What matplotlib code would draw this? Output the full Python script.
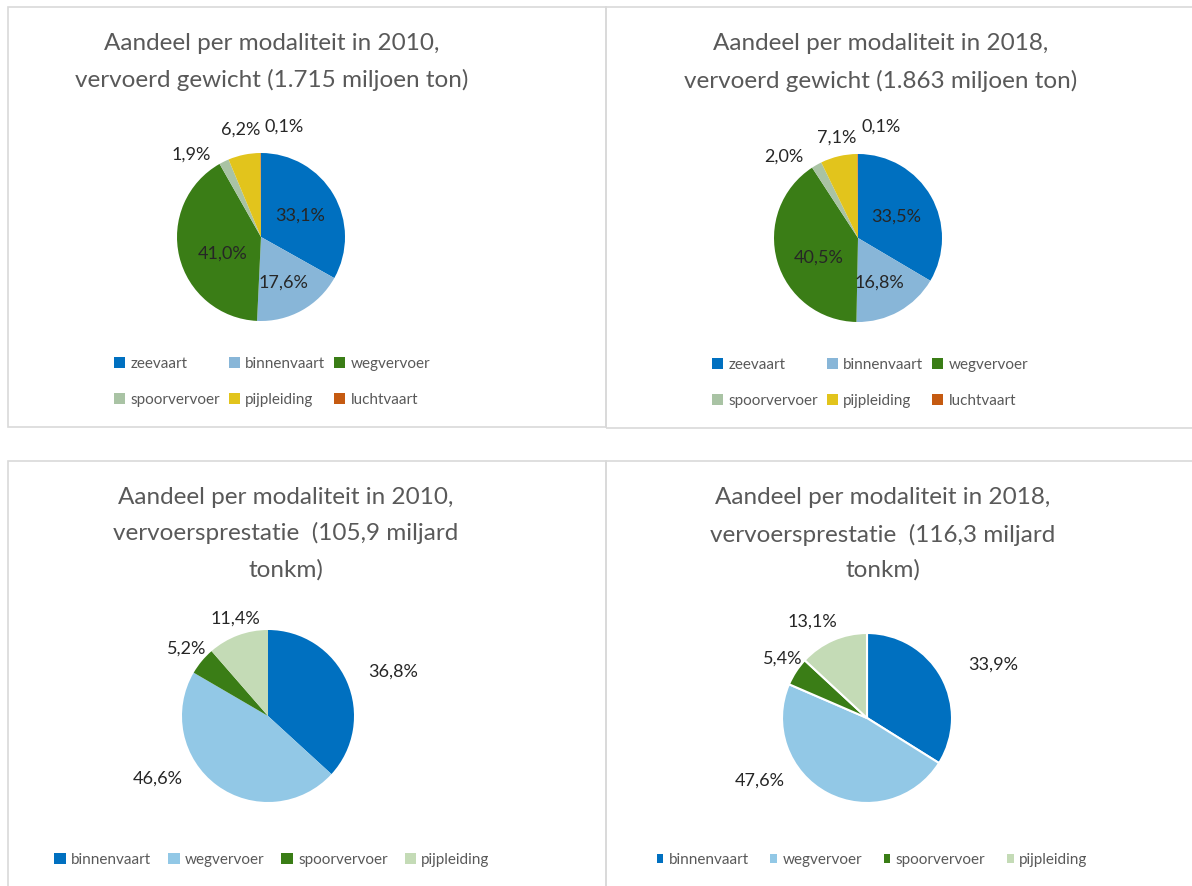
import matplotlib.pyplot as plt
import numpy as np
from matplotlib.patches import Patch, Rectangle

# aandeel per modaliteit (%)
modes_top = ['zeevaart', 'binnenvaart', 'wegvervoer', 'spoorvervoer', 'pijpleiding', 'luchtvaart']
gewicht_2010 = [33.1, 17.6, 41.0, 1.9, 6.2, 0.1]
gewicht_2018 = [33.5, 16.8, 40.5, 2.0, 7.1, 0.1]

modes_bottom = ['binnenvaart', 'wegvervoer', 'spoorvervoer', 'pijpleiding']
prestatie_2010 = [36.8, 46.6, 5.2, 11.4]
prestatie_2018 = [33.9, 47.6, 5.4, 13.1]

titles = [
    ['Aandeel per modaliteit in 2010,', 'vervoerd gewicht (1.715 miljoen ton)'],
    ['Aandeel per modaliteit in 2018,', 'vervoerd gewicht (1.863 miljoen ton)'],
    ['Aandeel per modaliteit in 2010,', 'vervoersprestatie  (105,9 miljard', 'tonkm)'],
    ['Aandeel per modaliteit in 2018,', 'vervoersprestatie  (116,3 miljard', 'tonkm)'],
]

colors_top = ['#0070C0', '#88B6D8', '#3A7D16', '#A9C3A4', '#E2C41C', '#C55A11']
colors_bottom = ['#0070C0', '#92C8E6', '#3A7D16', '#C4DBB6']

plt.rcParams['font.family'] = ['Lato', 'DejaVu Sans']
W, H = 1192, 886
fig = plt.figure(figsize=(W / 100, H / 100), dpi=100)

def fx(x):
    return x / W

def fy(y):
    return 1 - y / H

# panel frames
for (x0, y0, x1, y1) in [(8, 7, 606, 427), (606, 7, 1196, 428),
                         (8, 461, 606, 890), (606, 461, 1196, 890)]:
    fig.patches.append(Rectangle((fx(x0), fy(y1)), fx(x1 - x0), (y1 - y0) / H,
                                 transform=fig.transFigure, fill=False,
                                 edgecolor='#D9D9D9', linewidth=1.2))

# pie centre (px), radius (px), per-label (distance, angle nudge)
panels = [
    dict(values=gewicht_2010, names=modes_top, colors=colors_top, cx=261, cy=237, r=84,
         lab=[(0.53, -2), (0.6, -3), (0.5, 10), (1.29, 14), (1.3, -1), (1.34, -12)],
         tx=272, ty=[43, 80], leg=(272, 382), ncol=3, edge=0, hs=0.75, cs=0.55),
    dict(values=gewicht_2018, names=modes_top, colors=colors_top, cx=858, cy=238, r=84,
         lab=[(0.52, -1), (0.59, -4), (0.52, 10), (1.31, 13), (1.22, -1), (1.35, -12)],
         tx=881, ty=[43, 81], leg=(870, 383), ncol=3, edge=0, hs=0.75, cs=0.55),
    dict(values=prestatie_2010, names=modes_bottom, colors=colors_bottom, cx=268, cy=716, r=86,
         lab=[(1.54, -4), (1.48, -24), (1.23, 0), (1.2, -2)],
         tx=286, ty=[497, 533, 570], leg=(272, 860), ncol=4, edge=0, hs=0.75, cs=1.1),
    dict(values=prestatie_2018, names=modes_bottom, colors=colors_bottom, cx=867, cy=718, r=85,
         lab=[(1.61, -6), (1.46, -32), (1.21, -2), (1.3, 6)],
         tx=883, ty=[498, 535, 570], leg=(872, 860), ncol=4, edge=1.5, hs=0.45, cs=1.4),
]

for p, title in zip(panels, titles):
    r = p['r']
    ax = fig.add_axes([fx(p['cx'] - 2 * r), fy(p['cy'] + 2 * r), 4 * r / W, 4 * r / H])
    wedges, _ = ax.pie(p['values'], colors=p['colors'], startangle=90, counterclock=False,
                       radius=1, wedgeprops=dict(edgecolor='white', linewidth=p['edge']))
    ax.set_xlim(-2, 2)
    ax.set_ylim(-2, 2)
    ax.set_aspect('equal')
    ax.axis('off')

    for w, v, (d, nudge) in zip(wedges, p['values'], p['lab']):
        ang = np.deg2rad((w.theta1 + w.theta2) / 2 + nudge)
        ax.text(d * np.cos(ang), d * np.sin(ang), f'{v:.1f}'.replace('.', ',') + '%',
                ha='center', va='center', fontsize=13, color='#262626')

    for line, y in zip(title, p['ty']):
        fig.text(fx(p['tx']), fy(y), line, ha='center', va='center',
                 fontsize=17.5, color='#595959')

    handles = [Patch(facecolor=c, edgecolor='none') for c in p['colors']]
    names = p['names']
    if p['ncol'] == 3:
        order = [0, 3, 1, 4, 2, 5]
        handles = [handles[i] for i in order]
        names = [names[i] for i in order]
    fig.legend(handles, names, loc='center', bbox_to_anchor=(fx(p['leg'][0]), fy(p['leg'][1])),
               ncol=p['ncol'], frameon=False, fontsize=11, labelcolor='#595959',
               handlelength=p['hs'], handleheight=p['hs'], handletextpad=0.35,
               columnspacing=p['cs'], labelspacing=1.45)

fig.savefig('out.png', dpi=100)
